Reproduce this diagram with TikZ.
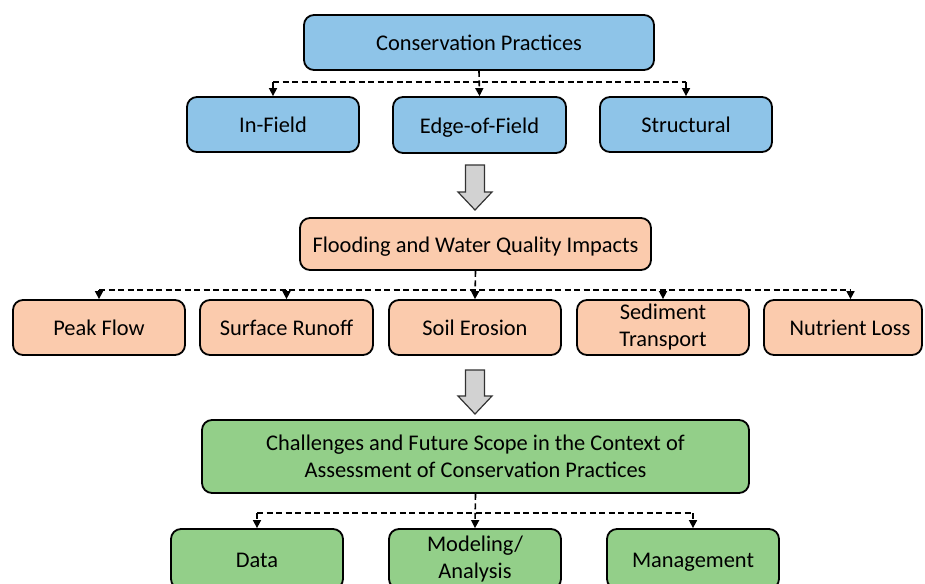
\documentclass[tikz,border=0pt]{standalone}
\usepackage{fontspec}
\setmainfont{Carlito}
\usetikzlibrary{arrows.meta,calc}

\definecolor{boxblue}{HTML}{8EC4E8}
\definecolor{boxpeach}{HTML}{FBCBAD}
\definecolor{boxgreen}{HTML}{93CF89}
\definecolor{arrowgrey}{HTML}{D2D2D2}

\tikzset{
  card/.style={draw=black, line width=1.8pt, rounded corners=10pt, align=center,
    inner sep=0pt, font=\fontsize{22.4}{27}\selectfont},
  bluecard/.style={card, fill=boxblue},
  peachcard/.style={card, fill=boxpeach},
  greencard/.style={card, fill=boxgreen},
  bus/.style={line width=1.6pt, dash pattern=on 6pt off 3.5pt},
  busarrow/.style={bus, -{Triangle[width=8pt,length=8pt]}},
  blockarrow/.style={draw=black!80, line width=1.2pt, fill=arrowgrey, line join=miter}
}
% fixed height and depth so single-line labels sit at the same level
\newcommand{\onerow}[1]{\rule[-5pt]{0pt}{26.4pt}#1}

\begin{document}
\begin{tikzpicture}[x=1pt,y=-1pt]
\useasboundingbox (0,0) rectangle (925,583);

% tier 1: practices
\node[bluecard, minimum width=350pt, minimum height=55pt] (cp) at (479,42.5) {\onerow{Conservation Practices}};
\node[bluecard, minimum width=172pt, minimum height=55pt] (inf) at (273,124.5) {\onerow{In-Field}};
\node[bluecard, minimum width=173pt, minimum height=56pt] (ef) at (479.5,125) {\onerow{Edge-of-Field}};
\node[bluecard, minimum width=172pt, minimum height=55pt] (st) at (686,124.5) {\onerow{Structural}};

% tier 2: impacts
\node[peachcard, minimum width=351pt, minimum height=52pt] (fl) at (475.5,244) {\onerow{Flooding and Water Quality Impacts}};
\node[peachcard, minimum width=172pt, minimum height=55pt] (pf) at (99,327.5) {\onerow{Peak Flow}};
\node[peachcard, minimum width=173pt, minimum height=55pt] (sr) at (286.5,327.5) {\onerow{Surface Runoff}};
\node[peachcard, minimum width=172pt, minimum height=55pt] (se) at (475,327.5) {\onerow{Soil Erosion}};
\node[peachcard, minimum width=172pt, minimum height=55pt] (sd) at (663,327.5) {Sediment\\Transport};
\node[peachcard, minimum width=158pt, minimum height=55pt] (nl) at (843,327.5) {\onerow{\hspace*{14pt}Nutrient Loss}};

% tier 3: challenges
\node[greencard, minimum width=547pt, minimum height=73pt] (ch) at (475.5,456.5)
  {Challenges and Future Scope in the Context of\\Assessment of Conservation Practices};
\node[greencard, minimum width=172pt, minimum height=60pt] (da) at (257,559) {\onerow{Data}};
\node[greencard, minimum width=172pt, minimum height=60pt] (mo) at (475,559) {Modeling/\\Analysis};
\node[greencard, minimum width=172pt, minimum height=60pt] (mg) at (693,559) {\onerow{Management}};

% dashed distribution buses
\coordinate (b1) at (cp.south |- 0,82);
\draw[bus] (b1 -| inf.north) -- (b1 -| st.north);
\draw[busarrow] (cp.south) -- (ef.north);
\draw[busarrow] (b1 -| inf.north) -- (inf.north);
\draw[busarrow] (b1 -| st.north) -- (st.north);

\coordinate (b2) at (fl.south |- 0,290);
\coordinate (nltop) at ($(nl.north)+(7.5,0)$);
\draw[bus] (b2 -| pf.north) -- (b2 -| nltop);
\draw[busarrow] (fl.south) -- (se.north);
\draw[busarrow] (b2 -| pf.north) -- (pf.north);
\draw[busarrow] (b2 -| sr.north) -- (sr.north);
\draw[busarrow] (b2 -| sd.north) -- (sd.north);
\draw[busarrow] (b2 -| nltop) -- (nltop);

\coordinate (b3) at (ch.south |- 0,513);
\draw[bus] (b3 -| da.north) -- (b3 -| mg.north);
\draw[busarrow] (ch.south) -- (mo.north);
\draw[busarrow] (b3 -| da.north) -- (da.north);
\draw[busarrow] (b3 -| mg.north) -- (mg.north);

% grey block arrows between tiers
\draw[blockarrow] (465.5,165) -- (484.5,165) -- (484.5,192) -- (492,192) -- (475,210)
  -- (458,192) -- (465.5,192) -- cycle;
\draw[blockarrow] (465.5,370) -- (484.5,370) -- (484.5,396) -- (492,396) -- (475,414)
  -- (458,396) -- (465.5,396) -- cycle;
\end{tikzpicture}
\end{document}
